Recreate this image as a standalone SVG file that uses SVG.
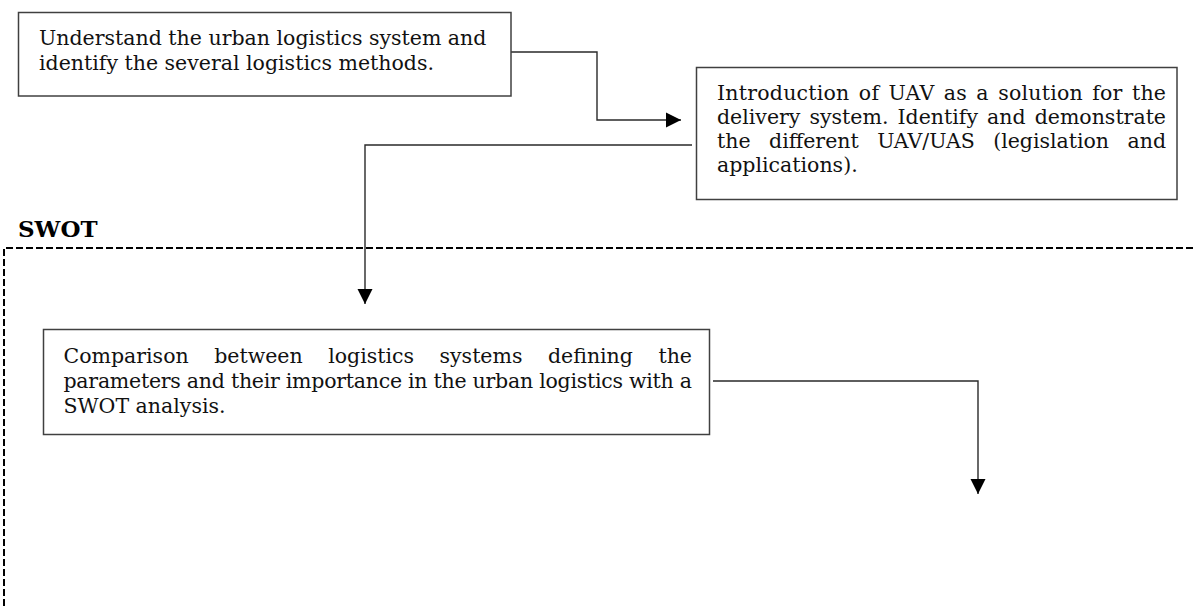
<svg xmlns="http://www.w3.org/2000/svg" width="1193" height="606" viewBox="0 0 1193 606">
<style>
.box{fill:#fff;stroke:#404040;stroke-width:1.5}
.t{font-family:"DejaVu Serif","Liberation Serif",serif;font-size:20.5px;fill:#111}
.h{font-family:"DejaVu Serif","Liberation Serif",serif;font-size:23px;font-weight:bold;fill:#000}
.c{fill:none;stroke:#2a2a2a;stroke-width:1.4}
.d{fill:none;stroke:#000;stroke-width:2;stroke-dasharray:7 3}
</style>
<defs>
<marker id="arr" markerUnits="userSpaceOnUse" markerWidth="16" markerHeight="16" viewBox="0 0 16 16" refX="15" refY="8" orient="auto">
<path d="M0,0.5 L15,8 L0,15.5 Z" fill="#000"/>
</marker>
</defs>
<rect width="1193" height="606" fill="#fff"/>
<g id="swot-frame">
<path class="d" d="M4,606 V248 H1193"/>
<text class="h" x="18" y="237">SWOT</text>
</g>
<g id="connectors">
<path class="c" d="M511,52 H597 V120 H681" marker-end="url(#arr)"/>
<path class="c" d="M692,145 H365 V304" marker-end="url(#arr)"/>
<path class="c" d="M713,381 H978 V494" marker-end="url(#arr)"/>
</g>
<g id="node1">
<rect class="box" x="18.5" y="12.5" width="492.5" height="83.5"/>
<text class="t" x="39" y="45">Understand the urban logistics system and</text>
<text class="t" x="39" y="69.5">identify the several logistics methods.</text>
</g>
<g id="node2">
<rect class="box" x="696.5" y="67.5" width="480.5" height="132"/>
<text class="t" x="717" y="100" word-spacing="2.6" textLength="449" lengthAdjust="spacing">Introduction of UAV as a solution for the</text>
<text class="t" x="717" y="124" word-spacing="2.6" textLength="449" lengthAdjust="spacing">delivery system. Identify and demonstrate</text>
<text class="t" x="717" y="148" word-spacing="12" textLength="449" lengthAdjust="spacing">the different UAV/UAS (legislation and</text>
<text class="t" x="717" y="172">applications).</text>
</g>
<g id="node3">
<rect class="box" x="43.5" y="329.5" width="666" height="105"/>
<text class="t" x="63.5" y="363" word-spacing="19" textLength="628.5" lengthAdjust="spacing">Comparison between logistics systems defining the</text>
<text class="t" x="63.5" y="388" textLength="628.5" lengthAdjust="spacing">parameters and their importance in the urban logistics with a</text>
<text class="t" x="63.5" y="413">SWOT analysis.</text>
</g>
</svg>
